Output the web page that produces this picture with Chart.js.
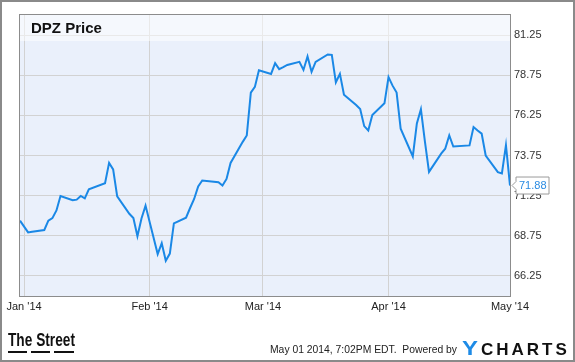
<!DOCTYPE html>
<html>
<head>
<meta charset="utf-8">
<script src="https://cdn.jsdelivr.net/npm/chart.js@4/dist/chart.umd.min.js"></script>
<style>
    html, body { margin: 0; padding: 0; background: #ffffff; }
    canvas { display: block; }
</style>
</head>
<body>
<canvas id="priceChart" width="575" height="362"></canvas>
<script>
// DPZ daily close, Dec 31 2013 - May 01 2014
const dates = [
    "2013-12-31",
    "2014-01-02", "2014-01-03", "2014-01-06", "2014-01-07", "2014-01-08", "2014-01-09", "2014-01-10",
    "2014-01-13", "2014-01-14", "2014-01-15", "2014-01-16", "2014-01-17",
    "2014-01-21", "2014-01-22", "2014-01-23", "2014-01-24",
    "2014-01-27", "2014-01-28", "2014-01-29", "2014-01-30", "2014-01-31",
    "2014-02-03", "2014-02-04", "2014-02-05", "2014-02-06", "2014-02-07",
    "2014-02-10", "2014-02-11", "2014-02-12", "2014-02-13", "2014-02-14",
    "2014-02-18", "2014-02-19", "2014-02-20", "2014-02-21",
    "2014-02-24", "2014-02-25", "2014-02-26", "2014-02-27", "2014-02-28",
    "2014-03-03", "2014-03-04", "2014-03-05", "2014-03-06", "2014-03-07",
    "2014-03-10", "2014-03-11", "2014-03-12", "2014-03-13", "2014-03-14",
    "2014-03-17", "2014-03-18", "2014-03-19", "2014-03-20", "2014-03-21",
    "2014-03-24", "2014-03-25", "2014-03-26", "2014-03-27", "2014-03-28",
    "2014-03-31", "2014-04-01", "2014-04-02", "2014-04-03", "2014-04-04",
    "2014-04-07", "2014-04-08", "2014-04-09", "2014-04-10", "2014-04-11",
    "2014-04-14", "2014-04-15", "2014-04-16", "2014-04-17",
    "2014-04-21", "2014-04-22", "2014-04-23", "2014-04-24", "2014-04-25",
    "2014-04-28", "2014-04-29", "2014-04-30", "2014-05-01"
];
const prices = [
    69.69,
    68.96, 69.00, 69.11, 69.69, 69.85, 70.33, 71.23,
    70.96, 71.00, 71.23, 71.08, 71.64,
    72.02, 73.29, 72.88, 71.21,
    70.12, 69.86, 68.73, 69.83, 70.63,
    67.61, 68.29, 67.19, 67.64, 69.52,
    69.88, 70.48, 71.04, 71.83, 72.19,
    72.08, 71.88, 72.29, 73.29,
    74.60, 75.00, 77.67, 78.02, 79.06,
    78.83, 79.50, 79.13, 79.25, 79.39,
    79.58, 79.08, 79.92, 78.96, 79.58,
    80.04, 80.02, 78.31, 78.83, 77.54,
    76.89, 76.64, 75.58, 75.31, 76.27,
    77.00, 78.63, 78.10, 77.67, 75.42,
    73.69, 75.75, 76.63, 74.60, 72.73,
    73.87, 74.17, 75.00, 74.31,
    74.38, 75.52, 75.31, 75.11, 73.75,
    72.71, 72.63, 74.39, 71.88
];
const monthLabels = ["Jan '14", "Feb '14", "Mar '14", "Apr '14", "May '14"];
const monthDates = ["2014-01-01", "2014-02-01", "2014-03-01", "2014-04-01", "2014-05-01"];
const priceTicks = [66.25, 68.75, 71.25, 73.75, 76.25, 78.75, 81.25];

const FONT = "'Liberation Sans', Arial, sans-serif";
const DAY = 86400000;
const start = Date.UTC(2014, 0, 1);

function dayOf(s) {
    const p = s.split("-");
    return (Date.UTC(+p[0], +p[1] - 1, +p[2]) - start) / DAY;
}

// draw text squeezed/stretched horizontally to a given width
function fitText(ctx, text, x, y, width) {
    const w = ctx.measureText(text).width;
    ctx.save();
    ctx.translate(x, y);
    ctx.scale(width / w, 1);
    ctx.fillText(text, 0, 0);
    ctx.restore();
}

const points = dates.map((d, i) => ({ x: dayOf(d), y: prices[i] }));
const monthDays = monthDates.map(dayOf);

const chartBackground = {
    id: "chartBackground",
    beforeDraw(chart) {
        const { ctx, chartArea: a } = chart;
        ctx.save();
        ctx.fillStyle = "#eaf0fb";
        ctx.fillRect(a.left, a.top, a.right - a.left, a.bottom - a.top);
        ctx.restore();
    },
    beforeDatasetsDraw(chart) {
        const { ctx, chartArea: a } = chart;
        ctx.save();
        // lighter title band
        ctx.fillStyle = "rgba(255, 255, 255, 0.5)";
        ctx.fillRect(a.left, a.top, a.right - a.left, 26);
        ctx.fillStyle = "#111";
        ctx.font = "bold 15px " + FONT;
        ctx.textBaseline = "middle";
        ctx.fillText("DPZ Price", a.left + 11, a.top + 14);
        ctx.restore();
    }
};

const chartDecor = {
    id: "chartDecor",
    afterDraw(chart) {
        const { ctx, chartArea: a } = chart;
        ctx.save();

        // plot frame
        ctx.strokeStyle = "#8c8c8c";
        ctx.lineWidth = 1;
        ctx.strokeRect(a.left - 0.5, a.top - 0.5, a.right - a.left + 1, a.bottom - a.top + 1);

        // last value flag
        const meta = chart.getDatasetMeta(0);
        const last = meta.data[meta.data.length - 1];
        const tip = last.x + 2;
        const y = last.y;
        const bx = tip + 4;
        const bw = 33;
        ctx.beginPath();
        ctx.moveTo(bx, y - 8.5);
        ctx.lineTo(bx + bw, y - 8.5);
        ctx.lineTo(bx + bw, y + 8.5);
        ctx.lineTo(bx, y + 8.5);
        ctx.lineTo(bx, y + 4);
        ctx.lineTo(tip, y);
        ctx.lineTo(bx, y - 4);
        ctx.closePath();
        ctx.fillStyle = "#ffffff";
        ctx.fill();
        ctx.strokeStyle = "#9a9a9a";
        ctx.stroke();
        ctx.fillStyle = "#2a8be2";
        ctx.font = "11px " + FONT;
        ctx.textBaseline = "middle";
        ctx.fillText(prices[prices.length - 1].toFixed(2), bx + 3, y + 0.5);

        // footer: The Street logo
        ctx.fillStyle = "#111";
        ctx.textBaseline = "alphabetic";
        ctx.font = "bold 19px " + FONT;
        fitText(ctx, "The Street", 8, 346, 67);
        ctx.fillRect(8, 351, 19, 2);
        ctx.fillRect(31, 351, 19, 2);
        ctx.fillRect(54, 351, 20, 2);

        // footer: timestamp and YCharts
        ctx.fillStyle = "#222";
        ctx.font = "11px " + FONT;
        fitText(ctx, "May 01 2014, 7:02PM EDT.  Powered by", 270, 353, 187);
        ctx.font = "bold 20px " + FONT;
        ctx.fillStyle = "#1e8be6";
        fitText(ctx, "Y", 462, 355, 16);
        ctx.fillStyle = "#111";
        ctx.font = "bold 17px " + FONT;
        let lx = 481;
        "CHARTS".split("").forEach(ch => {
            ctx.fillText(ch, lx, 355);
            lx += ctx.measureText(ch).width + 3;
        });

        // outer frame
        ctx.strokeStyle = "#8a8a8a";
        ctx.lineWidth = 2;
        ctx.strokeRect(1, 1, chart.width - 2, chart.height - 2);
        ctx.restore();
    }
};

new Chart(document.getElementById("priceChart"), {
    type: "line",
    data: {
        datasets: [{
            data: points,
            borderColor: "#1a88e6",
            borderWidth: 2,
            pointRadius: 0,
            tension: 0,
            fill: false
        }]
    },
    options: {
        responsive: false,
        animation: false,
        devicePixelRatio: 1,
        layout: {
            padding: { left: 20, top: 15, right: 0, bottom: 0 }
        },
        plugins: {
            legend: { display: false },
            tooltip: { enabled: false }
        },
        scales: {
            x: {
                type: "linear",
                min: -1,
                max: 120,
                afterBuildTicks: scale => {
                    scale.ticks = monthDays.map(v => ({ value: v }));
                },
                afterFit: scale => {
                    scale.height = 66;
                },
                ticks: {
                    autoSkip: false,
                    maxRotation: 0,
                    padding: 4,
                    color: "#222",
                    font: { family: FONT, size: 11 },
                    callback: (v) => monthLabels[monthDays.indexOf(v)]
                },
                grid: {
                    color: "#d2d2d2",
                    drawTicks: false
                },
                border: { display: false }
            },
            y: {
                position: "right",
                min: 65.0,
                max: 82.5,
                afterBuildTicks: scale => {
                    scale.ticks = priceTicks.map(v => ({ value: v }));
                },
                afterFit: scale => {
                    scale.width = 65;
                },
                ticks: {
                    padding: 4,
                    color: "#333",
                    font: { family: FONT, size: 11 },
                    callback: v => v.toFixed(2)
                },
                grid: {
                    color: "#d2d2d2",
                    drawTicks: false
                },
                border: { display: false }
            }
        }
    },
    plugins: [chartBackground, chartDecor]
});
</script>
</body>
</html>
